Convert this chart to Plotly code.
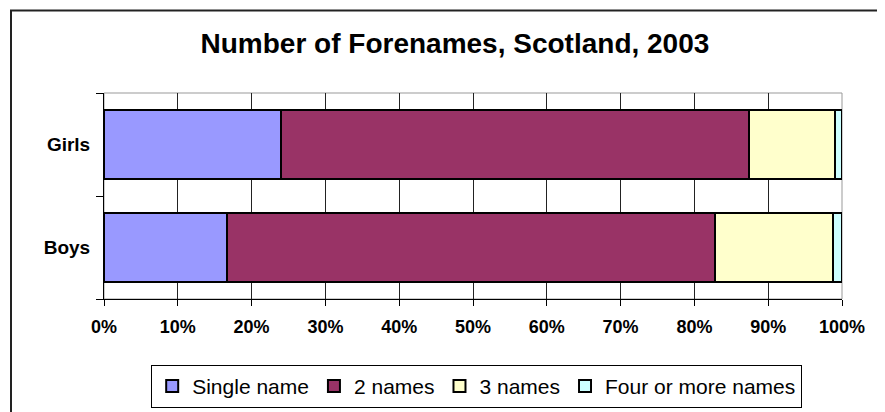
import plotly.graph_objects as go

categories = ["Boys", "Girls"]
series_names = ["Single name", "2 names", "3 names", "Four or more names"]
single = [16.7, 24.0]
two = [66.1, 63.4]
three = [16.0, 11.6]
four = [1.2, 1.0]
colors = ["#9999FF", "#993366", "#FFFFCC", "#CCFFFF"]
tick_vals = [0, 10, 20, 30, 40, 50, 60, 70, 80, 90, 100]
tick_text = [f"{v}%" for v in tick_vals]

fig = go.Figure()
for name, vals, c in zip(series_names, [single, two, three, four], colors):
    fig.add_trace(go.Bar(
        y=categories, x=vals, name=name, orientation="h",
        marker=dict(color=c, line=dict(color="black", width=2)),
    ))

font_family = "Liberation Sans, Arial, sans-serif"
# note: page body has an 8px default margin, so margins are offset accordingly
fig.update_layout(
    width=885, height=412,
    barmode="stack", bargap=0.33,
    margin=dict(l=96, r=51, t=85, b=117),
    paper_bgcolor="white", plot_bgcolor="white",
    font=dict(family=font_family, color="black"),
    title=dict(text="<b>Number of Forenames, Scotland, 2003</b>",
               xref="container", yref="container",
               x=0.505, xanchor="center", y=0.915, yanchor="middle",
               font=dict(size=28, family=font_family, color="black")),
    xaxis=dict(range=[0, 100], tickvals=tick_vals, ticktext=tick_text,
               showgrid=True, gridcolor="#222222", gridwidth=1,
               ticks="outside", ticklen=6, tickcolor="black",
               showline=True, linecolor="black", linewidth=1,
               tickfont=dict(size=18, family=font_family, color="black", weight="bold"),
               ticklabelstandoff=5,
               zeroline=False, fixedrange=True, automargin=False),
    yaxis=dict(categoryorder="array", categoryarray=categories,
               ticks="outside", ticklen=7, tickcolor="black", tickson="boundaries",
               showline=True, linecolor="black", linewidth=1,
               showgrid=False,
               tickfont=dict(size=19, family=font_family, color="black", weight="bold"),
               ticklabelstandoff=9, fixedrange=True, automargin=False),
    legend=dict(orientation="h", x=0.505, xanchor="center", y=-0.32, yanchor="top",
                bordercolor="black", borderwidth=1, bgcolor="white",
                font=dict(size=21, family=font_family, color="black"),
                traceorder="normal", itemwidth=30, tracegroupgap=0),
    showlegend=True,
)

# plot-area border (top & right, gray) and outer chart border
fig.add_shape(type="rect", xref="paper", yref="paper", x0=0, x1=1, y0=0, y1=1,
              line=dict(color="#999999", width=1), layer="below")
fig.add_shape(type="rect", xref="paper", yref="paper",
              x0=(3 - 96) / 738, x1=(900 - 96) / 738,
              y0=(295 - 430) / 210, y1=(295 - 1) / 210,
              line=dict(color="#222222", width=2))

fig.write_html("out.html")
